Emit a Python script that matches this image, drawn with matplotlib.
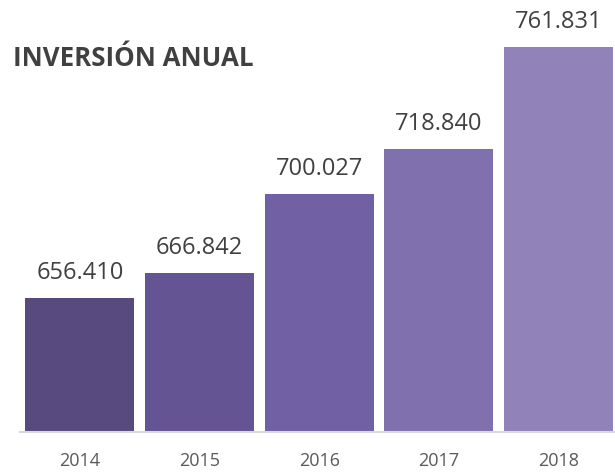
import matplotlib
matplotlib.use('Agg')
import matplotlib.pyplot as plt

years = ['2014', '2015', '2016', '2017', '2018']
values = [656410, 666842, 700027, 718840, 761831]
labels = ['656.410', '666.842', '700.027', '718.840', '761.831']
colors = ['#584a7e', '#655494', '#7260a4', '#8070ad', '#9183b9']

plt.rcParams['font.family'] = ['Open Sans', 'DejaVu Sans']

fig = plt.figure(figsize=(6.15, 4.76), dpi=100)
# axes placed in pixels: left 20, baseline at 432, top near 4
ax = fig.add_axes([20 / 615, (476 - 432.3) / 476, 598.5 / 615, 428.6 / 476])

x = list(range(len(years)))
ax.bar(x, values, width=0.91, color=colors, bottom=0)
ax.set_ylim(600000, 780000)
ax.set_xlim(-0.5, 4.5)

for xi, v, lab in zip(x, values, labels):
    ax.text(xi, v + 5500, lab, ha='center', va='bottom', fontsize=17, color='#404040')

ax.set_xticks(x)
ax.set_xticklabels(years, fontsize=13, color='#595959')
ax.tick_params(axis='x', length=0, pad=14)
ax.set_yticks([])
for s in ['top', 'right', 'left']:
    ax.spines[s].set_visible(False)
ax.spines['bottom'].set_color('#d9d9d9')
ax.spines['bottom'].set_linewidth(1.5)

fig.text(13 / 615, 1 - 66 / 476, 'INVERSIÓN ANUAL', fontsize=18.6, fontweight='bold',
         color='#404040', ha='left', va='baseline')

fig.savefig('out.png', dpi=100)
